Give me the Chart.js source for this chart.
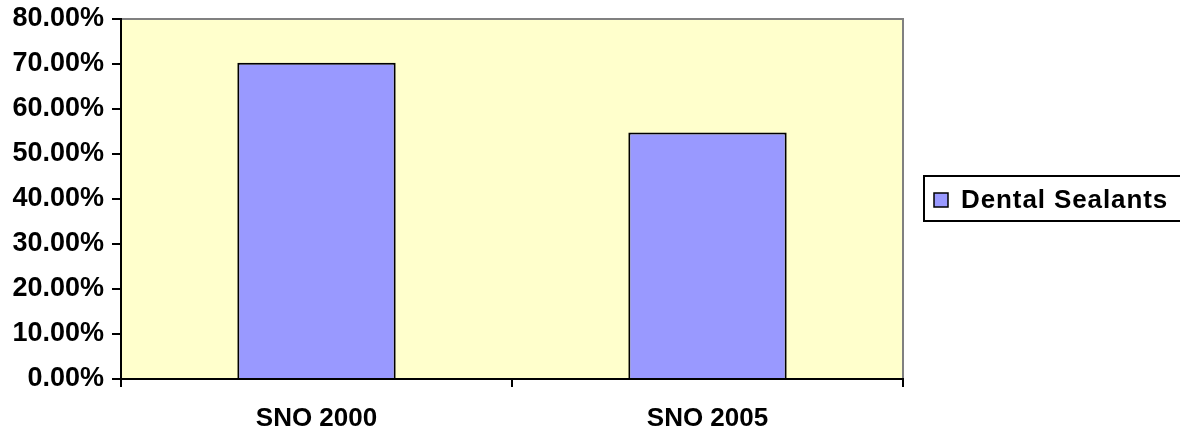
<!DOCTYPE html>
<html>
<head>
<meta charset="utf-8">
<script src="https://cdn.jsdelivr.net/npm/chart.js@4.4.1/dist/chart.umd.min.js"></script>
<style>
html,body{margin:0;padding:0;background:#fff;}
#wrap{width:1180px;height:433px;position:relative;}
</style>
</head>
<body>
<div id="wrap"><canvas id="c" width="1180" height="433"></canvas></div>
<script>
const categories = ["SNO 2000", "SNO 2005"];
const seriesName = "Dental Sealants";
const sealantRates = [0.703, 0.548];
const yMin = 0, yMax = 0.8, yStep = 0.1;

const FONT = '"Liberation Sans", Arial, sans-serif';
const PLOT_L = 121, PLOT_R = 903, PLOT_T = 19, PLOT_B = 379;

const bgPlugin = {
  id: 'bg',
  beforeDraw(chart) {
    const {ctx, chartArea: a} = chart;
    ctx.save();
    ctx.fillStyle = '#FFFFCC';
    ctx.fillRect(a.left, a.top, a.right - a.left, a.bottom - a.top);
    ctx.strokeStyle = '#808080';
    ctx.lineWidth = 2;
    ctx.beginPath();
    ctx.moveTo(a.left, a.top);
    ctx.lineTo(a.right, a.top);
    ctx.lineTo(a.right, a.bottom);
    ctx.stroke();
    ctx.restore();
  },
  afterDraw(chart) {
    const ctx = chart.ctx;
    const ds = chart.data.datasets[0];
    ctx.save();
    ctx.strokeStyle = '#000';
    ctx.lineWidth = 2;
    ctx.strokeRect(924, 176, 272, 45);
    ctx.fillStyle = ds.backgroundColor;
    ctx.fillRect(934, 193, 14, 14);
    ctx.lineWidth = 1.5;
    ctx.strokeRect(934, 193, 14, 14);
    ctx.fillStyle = '#000';
    ctx.font = 'bold 26px ' + FONT;
    ctx.textBaseline = 'middle';
    ctx.textAlign = 'left';
    if ('letterSpacing' in ctx) ctx.letterSpacing = '0.9px';
    ctx.fillText(ds.label, 961, 201);
    ctx.restore();
  }
};

new Chart(document.getElementById('c'), {
  type: 'bar',
  data: {
    labels: categories,
    datasets: [{
      label: seriesName,
      data: sealantRates,
      backgroundColor: '#9999FF',
      borderColor: '#000000',
      borderWidth: 2,
      borderSkipped: 'bottom',
      categoryPercentage: 1.0,
      barPercentage: 0.405
    }]
  },
  options: {
    responsive: false,
    animation: false,
    devicePixelRatio: 1,
    layout: { padding: { left: 0, top: PLOT_T, right: 1180 - PLOT_R, bottom: 0 } },
    plugins: { legend: { display: false }, tooltip: { enabled: false } },
    scales: {
      x: {
        afterFit(s) { s.height = 433 - PLOT_B; s.paddingLeft = 0; s.paddingRight = 0; },
        grid: { offset: true, drawOnChartArea: false, tickLength: 8, color: '#000', lineWidth: 2 },
        border: { color: '#000', width: 2 },
        ticks: { color: '#000', font: { family: FONT, size: 26, weight: 'bold' }, padding: 16 }
      },
      y: {
        min: yMin, max: yMax,
        afterFit(s) { s.width = PLOT_L; s.paddingTop = 0; s.paddingBottom = 0; },
        grid: { drawOnChartArea: false, tickLength: 9, color: '#000', lineWidth: 2 },
        border: { color: '#000', width: 2 },
        ticks: {
          stepSize: yStep,
          color: '#000',
          padding: 8,
          font: { family: FONT, size: 27, weight: 'bold' },
          callback: v => (v * 100).toFixed(2) + '%'
        }
      }
    }
  },
  plugins: [bgPlugin]
});
</script>
</body>
</html>
